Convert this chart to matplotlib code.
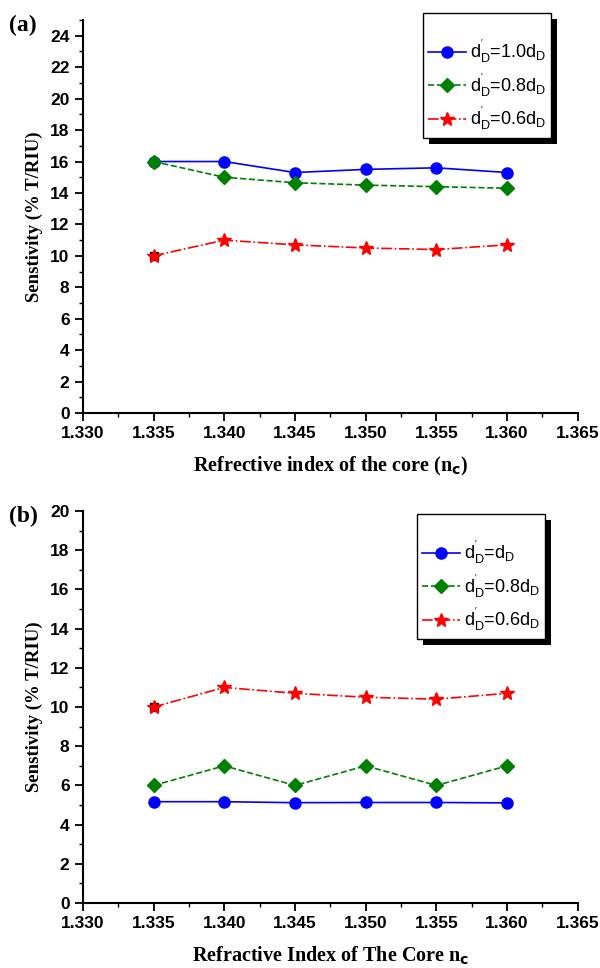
import matplotlib
matplotlib.use("Agg")
import matplotlib.pyplot as plt
from matplotlib.ticker import MultipleLocator, FormatStrFormatter
from matplotlib.patches import Rectangle

nc = [1.335, 1.340, 1.345, 1.350, 1.355, 1.360]
a_10 = [16.0, 16.0, 15.3, 15.5, 15.6, 15.3]
a_08 = [16.0, 15.0, 14.65, 14.5, 14.4, 14.3]
a_06 = [10.0, 11.0, 10.7, 10.5, 10.4, 10.7]
b_10 = [5.17, 5.17, 5.12, 5.13, 5.13, 5.11]
b_08 = [6.0, 7.0, 6.0, 7.0, 6.0, 7.0]
b_06 = [10.0, 11.0, 10.7, 10.5, 10.4, 10.7]

labels_a = [r"$\mathregular{d_D^{'}}$=1.0$\mathregular{d_D}$",
            r"$\mathregular{d_D^{'}}$=0.8$\mathregular{d_D}$",
            r"$\mathregular{d_D^{'}}$=0.6$\mathregular{d_D}$"]
labels_b = [r"$\mathregular{d_D^{'}}$=$\mathregular{d_D}$",
            r"$\mathregular{d_D^{'}}$=0.8$\mathregular{d_D}$",
            r"$\mathregular{d_D^{'}}$=0.6$\mathregular{d_D}$"]

plt.rcParams['mathtext.fontset'] = 'custom'
plt.rcParams['mathtext.rm'] = 'Liberation Sans'

fig = plt.figure(figsize=(6, 9.68), dpi=100)
ax1 = fig.add_axes([0.138, 0.5733, 0.825, 0.406])
ax2 = fig.add_axes([0.138, 0.0671, 0.825, 0.405])

legends = []

def style(ax, ymax, xlabel, letter, series, labels, leg_bbox):
    s10, s08, s06 = series
    l1, = ax.plot(nc, s10, '-', color='blue', marker='o', ms=8, lw=1.2, label=labels[0])
    l2, = ax.plot(nc, s08, '--', color='green', marker='D', ms=7, lw=1.2, label=labels[1])
    ax.plot([nc[0]], [s06[0]], 's', color='black', ms=6, zorder=3)
    l3, = ax.plot(nc, s06, '-.', color='red', marker='*', ms=10, lw=1.2, label=labels[2], zorder=4)
    ax.set_xlim(1.330, 1.365)
    ax.set_ylim(0, ymax)
    ax.xaxis.set_major_locator(MultipleLocator(0.005))
    ax.xaxis.set_minor_locator(MultipleLocator(0.0025))
    ax.xaxis.set_major_formatter(FormatStrFormatter('%.3f'))
    ax.yaxis.set_major_locator(MultipleLocator(2))
    ax.yaxis.set_minor_locator(MultipleLocator(1))
    for sp in ['top', 'right']:
        ax.spines[sp].set_visible(False)
    for sp in ['left', 'bottom']:
        ax.spines[sp].set_linewidth(1.5)
    ax.tick_params(which='major', direction='out', length=6, width=1.3)
    ax.tick_params(which='minor', direction='out', length=3, width=1.0)
    for t in ax.get_xticklabels() + ax.get_yticklabels():
        t.set_fontfamily('Liberation Sans')
        t.set_fontweight('bold')
        t.set_fontsize(12.5)
    ax.set_ylabel('Senstivity (% T/RIU)', fontfamily='Liberation Serif', fontweight='bold', fontsize=13.5)
    ax.set_xlabel(xlabel, fontfamily='Liberation Serif', fontweight='bold', fontsize=14.5, labelpad=10)
    ax.yaxis.set_label_coords(-0.08, 0.5)
    leg = ax.legend(handles=[l1, l2, l3], loc='upper left', bbox_to_anchor=leg_bbox,
                    prop={'family': 'Liberation Sans', 'size': 13}, frameon=True,
                    fancybox=False, edgecolor='black', framealpha=1.0, title=' ',
                    title_fontproperties={'size': 9},
                    handlelength=2.1, handletextpad=0.2, borderpad=0.3, labelspacing=0.35,
                    borderaxespad=0)
    leg.get_frame().set_linewidth(1.0)
    legends.append((ax, leg))
    fig.text(0.015, ax.get_position().y1 - 0.006, letter, fontfamily='Liberation Serif',
             fontweight='bold', fontsize=17, va='center', ha='left')

style(ax1, 25, r"Refrective index of the core (n$_\mathbf{c}$)", '(a)', (a_10, a_08, a_06),
      labels_a, (0.687, 1.018))
style(ax2, 20, r"Refractive Index of The Core n$_\mathbf{c}$", '(b)', (b_10, b_08, b_06),
      labels_b, (0.675, 0.992))

fig.canvas.draw()
r = fig.canvas.get_renderer()
for ax, leg in legends:
    bb = leg.get_frame().get_window_extent(r)
    sh = Rectangle((bb.x0 + 6, bb.y0 - 6), bb.width, bb.height, transform=None,
                   facecolor='black', edgecolor='none', zorder=4.9, clip_on=False)
    ax.add_artist(sh)

fig.savefig('out.png', dpi=100)
